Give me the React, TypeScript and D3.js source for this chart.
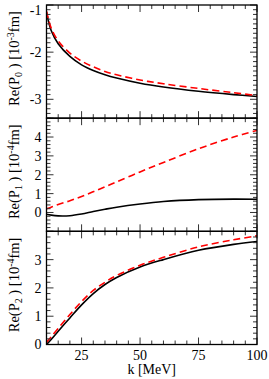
import React from 'react';
import * as d3 from 'd3';

// k grid (MeV) the curves were read on
const kValues = [10, 12, 15, 20, 25, 30, 35, 40, 50, 60, 75, 90, 100];

// Re(P0) [10^-3 fm]
const p0Solid = [-1.15, -1.54, -1.82, -2.09, -2.27, -2.39, -2.48, -2.55, -2.66, -2.74, -2.83, -2.90, -2.94];
const p0Dashed = [-1.13, -1.49, -1.76, -2.02, -2.19, -2.31, -2.41, -2.48, -2.59, -2.67, -2.77, -2.86, -2.92];

// Re(P1) [10^-4 fm]
const p1Solid = [-0.09, -0.14, -0.18, -0.17, -0.08, 0.05, 0.17, 0.28, 0.45, 0.58, 0.68, 0.71, 0.70];
const p1Dashed = [0.2, 0.28, 0.42, 0.62, 0.85, 1.1, 1.36, 1.62, 2.15, 2.65, 3.38, 4.0, 4.35];

// Re(P2) [10^-4 fm]
const p2Solid = [0.0, 0.18, 0.47, 0.94, 1.40, 1.80, 2.12, 2.37, 2.74, 3.0, 3.33, 3.54, 3.64];
const p2Dashed = [0.08, 0.27, 0.57, 1.06, 1.52, 1.91, 2.2, 2.44, 2.8, 3.08, 3.45, 3.7, 3.84];

const xTicks = [25, 50, 75, 100];

const panels = [
  { solid: p0Solid, dashed: p0Dashed, domain: [-3.4, -1], ticks: [-1, -2, -3], minor: 0.1, sub: '0', exp: '-3' },
  { solid: p1Solid, dashed: p1Dashed, domain: [-1, 5], ticks: [0, 1, 2, 3, 4], minor: 0.2, sub: '1', exp: '-4' },
  { solid: p2Solid, dashed: p2Dashed, domain: [0, 4], ticks: [0, 1, 2, 3], minor: 0.2, sub: '2', exp: '-4' },
];

const left = 46.5;
const right = 257;
const top = 5;
const bottom = 344.5;
const panelH = (bottom - top) / 3;
const font = "'Times New Roman', 'Liberation Serif', 'DejaVu Serif', serif";

const x = d3.scaleLinear().domain([10, 100]).range([left, right]);
const xMinor = d3.range(10, 100.01, 5);

const App: React.FC = () => {
  return (
    <svg width={269} height={379} style={{ position: 'absolute', left: 0, top: 0, background: '#fff', fontFamily: font }}>
      {panels.map((p, i) => {
        const y0 = top + i * panelH;
        const y1 = y0 + panelH;
        const y = d3.scaleLinear().domain(p.domain).range([y1, y0]);
        const line = d3.line<number>()
          .x((_, j) => x(kValues[j]))
          .y(d => y(d))
          .curve(d3.curveCatmullRom.alpha(0.5));
        const yMinor = d3.range(Math.ceil(p.domain[0] / p.minor - 1e-6), Math.floor(p.domain[1] / p.minor + 1e-6) + 1)
          .map(v => +(v * p.minor).toFixed(3));
        const isMajor = (v: number) => Math.abs(v - Math.round(v)) < 1e-6;
        return (
          <g key={i}>
            <defs>
              <clipPath id={`clip${i}`}>
                <rect x={left} y={y0} width={right - left} height={panelH} />
              </clipPath>
            </defs>
            <g clipPath={`url(#clip${i})`}>
              <path d={line(p.solid) || ''} fill="none" stroke="#000" strokeWidth={1.6} />
              <path d={line(p.dashed) || ''} fill="none" stroke="#f00" strokeWidth={1.6} strokeDasharray="7,4" />
            </g>
            {/* x ticks, top and bottom, inward */}
            {xMinor.map(v => {
              const len = v % 25 === 0 ? 7 : 4;
              return (
                <g key={`x${v}`} stroke="#333" strokeWidth={1}>
                  <line x1={x(v)} x2={x(v)} y1={y1} y2={y1 - len} />
                  <line x1={x(v)} x2={x(v)} y1={y0} y2={y0 + len} />
                </g>
              );
            })}
            {/* y ticks, left and right, inward */}
            {yMinor.map(v => {
              const len = isMajor(v) ? 7 : 4;
              return (
                <g key={`y${v}`} stroke="#333" strokeWidth={1}>
                  <line x1={left} x2={left + len} y1={y(v)} y2={y(v)} />
                  <line x1={right} x2={right - len} y1={y(v)} y2={y(v)} />
                </g>
              );
            })}
            {p.ticks.map(t => (
              <text key={`l${t}`} x={left - 5} y={Math.max(y(t), 10)} dy="0.35em" textAnchor="end"
                fontSize={14} fill="#000">{t}</text>
            ))}
            <rect x={left} y={y0} width={right - left} height={panelH} fill="none" stroke="#000" strokeWidth={1.3} />
            <text transform={`translate(19,${(y0 + y1) / 2 - 3}) rotate(-90)`} textAnchor="middle"
              fontSize={14.5} fill="#000">
              Re(P<tspan fontSize={10} dy={3}>{p.sub}</tspan>
              <tspan dy={-3}> ) [10</tspan>
              <tspan fontSize={10} dy={-5}>{p.exp}</tspan>
              <tspan dy={5}>fm]</tspan>
            </text>
          </g>
        );
      })}
      {xTicks.map(t => (
        <text key={t} x={x(t)} y={359.5} textAnchor="middle" fontSize={14} fill="#000">{t}</text>
      ))}
      <text x={(left + right) / 2} y={374} textAnchor="middle" fontSize={14} fill="#000">k [MeV]</text>
    </svg>
  );
};

export default App;
